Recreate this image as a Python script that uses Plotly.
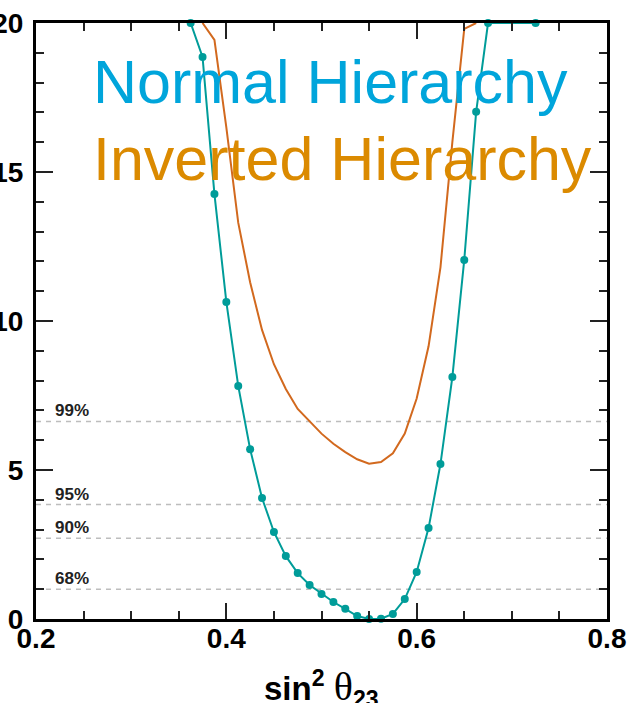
import plotly.graph_objects as go

# Normal hierarchy (teal, with markers)
x_nh = [0.3625, 0.375, 0.3875, 0.4, 0.4125, 0.425, 0.4375, 0.45, 0.4625, 0.475,
        0.4875, 0.5, 0.5125, 0.525, 0.5375, 0.55, 0.5625, 0.575, 0.5875, 0.6,
        0.6125, 0.625, 0.6375, 0.65, 0.6625, 0.675, 0.725]
chi_nh = [20, 18.86, 14.26, 10.64, 7.82, 5.70, 4.06, 2.92, 2.11, 1.54,
          1.14, 0.84, 0.57, 0.34, 0.10, 0.0, 0.01, 0.17, 0.67, 1.58,
          3.05, 5.2, 8.12, 12.05, 17.02, 20, 20]

# Inverted hierarchy (orange line)
x_ih = [0.375, 0.3875, 0.4, 0.4125, 0.425, 0.4375, 0.45, 0.4625, 0.475, 0.4875,
        0.5, 0.5125, 0.525, 0.5375, 0.55, 0.5625, 0.575, 0.5875, 0.6, 0.6125,
        0.625, 0.6375, 0.65, 0.6625]
chi_ih = [20, 19.43, 16.5, 13.3, 11.3, 9.7, 8.55, 7.72, 7.05, 6.62,
          6.22, 5.88, 5.6, 5.36, 5.21, 5.27, 5.56, 6.22, 7.4, 9.15,
          11.8, 16.0, 19.8, 20]

cl_levels = [1.0, 2.71, 3.84, 6.63]
cl_labels = ["68%", "90%", "95%", "99%"]

x_ticks = [0.2, 0.4, 0.6, 0.8]
y_ticks = [0, 5, 10, 15, 20]

TEAL = "#009C99"
ORANGE = "#D2691E"
FONT = "Liberation Sans"

fig = go.Figure()

for lvl in cl_levels:
    fig.add_hline(y=lvl, line=dict(color="#BDBDBD", width=1.5, dash="5px,5px"), layer="below")

fig.add_trace(go.Scatter(x=x_ih, y=chi_ih, mode="lines",
                         line=dict(color=ORANGE, width=2), showlegend=False))
fig.add_trace(go.Scatter(x=x_nh, y=chi_nh, mode="lines+markers",
                         line=dict(color=TEAL, width=2),
                         marker=dict(color=TEAL, size=8),
                         cliponaxis=False, showlegend=False))

for lvl, lab in zip(cl_levels, cl_labels):
    fig.add_annotation(x=0.218, y=lvl, xref="x", yref="y", text=lab, showarrow=False,
                       xanchor="left", yanchor="bottom", yshift=-1,
                       font=dict(family=FONT, size=17, color="#222222", weight="bold"))

fig.add_annotation(x=0.2575, y=18.02, xref="x", yref="y", text="Normal Hierarchy",
                   showarrow=False, xanchor="left", yanchor="middle",
                   font=dict(family=FONT, size=61, color="#00A5DB"))
fig.add_annotation(x=0.2575, y=15.45, xref="x", yref="y", text="Inverted Hierarchy",
                   showarrow=False, xanchor="left", yanchor="middle",
                   font=dict(family=FONT, size=61, color="#DB8A00"))

fig.add_annotation(x=0.5, y=-0.072, xref="paper", yref="paper",
                   text="<b>sin</b><sup><b>2</b></sup> <span style='font-family:Liberation Serif;font-size:40px'>θ</span><sub><b>23</b></sub>",
                   showarrow=False, xanchor="center", yanchor="top",
                   font=dict(family=FONT, size=33, color="black"))

axis_common = dict(
    showgrid=False, zeroline=False, automargin=False,
    showline=True, linewidth=3, linecolor="black", mirror="allticks",
    ticks="inside", tickcolor="#222222", tickwidth=1.5,
    tickfont=dict(family=FONT, size=28, color="black", weight="bold"),
)

fig.update_xaxes(range=[0.2, 0.8], tickvals=x_ticks, ticktext=[f"{v:.1f}" for v in x_ticks],
                 ticklen=16, ticklabelstandoff=-8,
                 minor=dict(dtick=0.05, tick0=0.2, ticks="inside", ticklen=8,
                            tickcolor="#222222", tickwidth=1.5),
                 **axis_common)
fig.update_yaxes(range=[0, 20], tickvals=y_ticks, ticktext=[str(v) for v in y_ticks],
                 ticklen=17, ticklabelstandoff=4,
                 minor=dict(dtick=1, tick0=0, ticks="inside", ticklen=8,
                            tickcolor="#222222", tickwidth=1.5),
                 **axis_common)

fig.update_layout(width=643, height=703,
                  margin=dict(l=36, r=36, t=23, b=84),
                  plot_bgcolor="white", paper_bgcolor="white")

fig.write_html("out.html")
